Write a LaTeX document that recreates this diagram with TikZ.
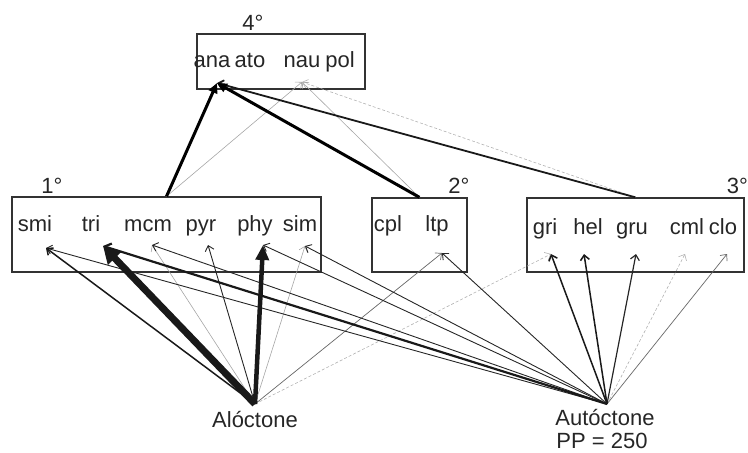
\documentclass[tikz,border=0pt]{standalone}
\usepackage{fontspec}
\setmainfont{Liberation Sans}
\usetikzlibrary{arrows.meta}
\begin{document}
\begin{tikzpicture}[x=1pt,y=-1pt,
  lbl/.style={anchor=base,inner sep=0pt,text=black!85,font=\fontsize{22}{25}\selectfont},
  box/.style={draw=black!80,line width=1.3pt,inner sep=0pt},
  barb/.style={-{Straight Barb[length=5pt,width=9pt]}},
  faint/.style={barb,draw=black!35,line width=0.6pt},
  faintdash/.style={faint,draw=black!30,dash pattern=on 3pt off 2pt},
  greyish/.style={barb,draw=black!60,line width=0.7pt},
  thinlink/.style={barb,draw=black!85,line width=0.9pt},
  midlink/.style={barb,draw=black!90,line width=1.5pt},
  boldlink/.style={draw=black!90,line width=2.2pt,-{Straight Barb[length=6pt,width=10pt]}},
  heavylink/.style={draw=black,line width=3pt,-{Triangle[length=10pt,width=9pt]}},
  hugelink/.style={draw=black!90,line width=#1,-{Triangle[length=17pt,width=18pt]}},
]
\useasboundingbox (0,0) rectangle (748,453);

% trophic level boxes
\node[box,minimum width=168pt,minimum height=55pt] (b4) at (281,61.5) {};
\node[box,minimum width=309pt,minimum height=75pt] (b1) at (166.5,234.5) {};
\node[box,minimum width=95pt,minimum height=74pt] (b2) at (419.5,235) {};
\node[box,minimum width=217pt,minimum height=74pt] (b3) at (635.5,235) {};

% level labels
\node[lbl] (l4) at (253,30) {4°};
\node[lbl] (l1) at (52,193) {1°};
\node[lbl] (l2) at (459,193) {2°};
\node[lbl,anchor=base east] (l3) at (748,193) {3°};

% taxa
\node[lbl] (ana) at (212,67) {ana};
\node[lbl] (ato) at (250,67) {ato};
\node[lbl] (nau) at (302,67) {nau};
\node[lbl] (pol) at (340,67) {pol};

\node[lbl] (smi) at (35,231) {smi};
\node[lbl] (tri) at (91,231) {tri};
\node[lbl] (mcm) at (148,231) {mcm};
\node[lbl] (pyr) at (201,231) {pyr};
\node[lbl] (phy) at (255,231) {phy};
\node[lbl] (sim) at (300,231) {sim};

\node[lbl] (cpl) at (388,231) {cpl};
\node[lbl] (ltp) at (437,231) {ltp};

\node[lbl] (gri) at (545,234) {gri};
\node[lbl] (hel) at (588,234) {hel};
\node[lbl] (gru) at (632,234) {gru};
\node[lbl] (cml) at (687,234) {cml};
\node[lbl] (clo) at (723,234) {clo};

% sources
\coordinate (alo) at (255,404);
\coordinate (aut) at (607,404);
\node[lbl] (alotxt) at (255,427) {Alóctone};
\node[lbl] (auttxt) at (605,425) {Autóctone};
\node[lbl] (pptxt) at (602,448) {PP = 250};

% arrow targets
\coordinate (t-ana) at (217,83);
\coordinate (t-nau) at (302,82);
\coordinate (t-smi) at (46,248);
\coordinate (t-tri) at (103,246);
\coordinate (t-mcm) at (152,245);
\coordinate (t-pyr) at (208,245);
\coordinate (t-phy) at (263,245);
\coordinate (t-sim) at (305,246);
\coordinate (t-ltp) at (442,253);
\coordinate (t-gri) at (551,254);
\coordinate (t-hel) at (584,254);
\coordinate (t-gru) at (636,254);
\coordinate (t-cml) at (685,254);
\coordinate (t-clo) at (727,254);

% weak links
\draw[faint] (b1.north) -- (t-nau);
\draw[faint] (b2.north) -- (t-nau);
\draw[faint] (alo) -- (t-mcm);
\draw[faint] (alo) -- (t-sim);
\draw[faintdash] (b3.north) -- (t-nau);
\draw[faintdash] (alo) -- (t-gri);
\draw[faintdash] (aut) -- (t-cml);
\draw[greyish] (aut) -- (t-clo);
\draw[greyish] (alo) -- (t-ltp);

% ordinary links
\draw[thinlink] (aut) -- (t-smi);
\draw[thinlink] (aut) -- (t-mcm);
\draw[thinlink] (aut) -- (t-phy);
\draw[thinlink] (aut) -- (t-sim);
\draw[thinlink] (aut) -- (t-ltp);
\draw[thinlink] (alo) -- (t-pyr);
\draw[thinlink,line width=1.2pt] (aut) -- (t-gru);

% stronger links
\draw[midlink] (aut) -- (t-gri);
\draw[midlink] (aut) -- (t-hel);
\draw[midlink] (alo) -- (t-smi);
\draw[midlink,line width=1.8pt] (b3.north) -- (t-ana);
\draw[boldlink] (aut) -- (t-tri);
\draw[heavylink] (b1.north) -- (t-ana);
\draw[heavylink] (b2.north) -- (t-ana);
\draw[hugelink=4.5pt,-{Triangle[length=15pt,width=13pt]}] (alo) -- (t-phy);
\draw[hugelink=7pt] (alo) -- (t-tri);
\end{tikzpicture}
\end{document}
